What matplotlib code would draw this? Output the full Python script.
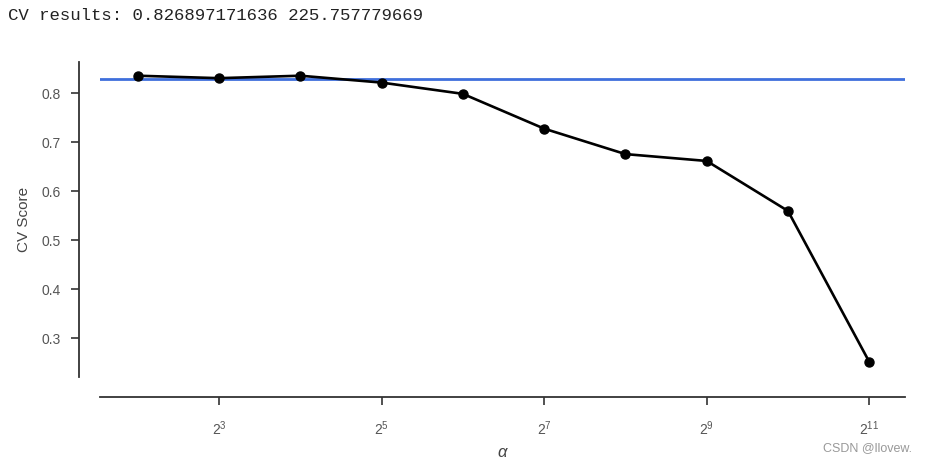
import numpy as np
import matplotlib
matplotlib.use("Agg")
import matplotlib.pyplot as plt
from matplotlib.ticker import FixedLocator, FuncFormatter

# data
alpha_exp = [2, 3, 4, 5, 6, 7, 8, 9, 10, 11]
cv_scores = [0.836, 0.831, 0.836, 0.822, 0.799, 0.728, 0.676, 0.662, 0.560, 0.252]
best_score = 0.829
xtick_exp = [3, 5, 7, 9, 11]
ytick_vals = [0.3, 0.4, 0.5, 0.6, 0.7, 0.8]
header = "CV results: 0.826897171636 225.757779669"

plt.rcParams['font.family'] = ['Liberation Sans', 'DejaVu Sans']
plt.rcParams['mathtext.fontset'] = 'custom'
plt.rcParams['mathtext.rm'] = 'Liberation Sans'
plt.rcParams['mathtext.it'] = 'Liberation Sans:italic'

fig = plt.figure(figsize=(9.27, 4.62), dpi=100)
ax = fig.add_axes([100/927, 1-377/462, (905-100)/927, (377-62)/462])

alphas = [2.0**e for e in alpha_exp]
ax.axhline(best_score, color='#3f6fdc', lw=2.0, zorder=1)
ax.plot(alphas, cv_scores, color='black', lw=1.9, marker='o', ms=6.5, zorder=2)

ax.set_xscale('log', base=2)
ax.set_xlim(2**1.536, 2**11.44)
ax.set_ylim(0.221, 0.864)

ax.xaxis.set_major_locator(FixedLocator([2.0**e for e in xtick_exp]))
ax.xaxis.set_minor_locator(FixedLocator([]))
ax.xaxis.set_major_formatter(FuncFormatter(lambda v, p: r'$\mathregular{2^{%d}}$' % round(np.log2(v))))
ax.yaxis.set_major_locator(FixedLocator(ytick_vals))
ax.yaxis.set_major_formatter(FuncFormatter(lambda v, p: '%.1f' % v))

for s in ['top', 'right']:
    ax.spines[s].set_visible(False)
ax.spines['left'].set_position(('outward', 15))
ax.spines['bottom'].set_position(('outward', 14.5))
for s in ['left', 'bottom']:
    ax.spines[s].set_color('#333333')
    ax.spines[s].set_linewidth(1.3)

ax.tick_params(axis='both', direction='out', length=6, width=1.2, color='#333333',
               labelcolor='#555555', labelsize=10)
ax.tick_params(axis='y', pad=7)
ax.tick_params(axis='x', pad=10)

ax.set_ylabel('CV Score', fontsize=11, color='#444444', labelpad=8)
ax.set_xlabel(r'$\alpha$', fontsize=12, color='#444444', labelpad=5)

fig.text(8/927, 1-16/462, header, family=['Liberation Mono', 'DejaVu Sans Mono'],
         fontsize=12.5, color='#222222', va='center', ha='left')
fig.text(912/927, 1-448/462, 'CSDN @llovew.', fontsize=9, color='#999999',
         va='center', ha='right')

fig.savefig('out.png', dpi=100)
